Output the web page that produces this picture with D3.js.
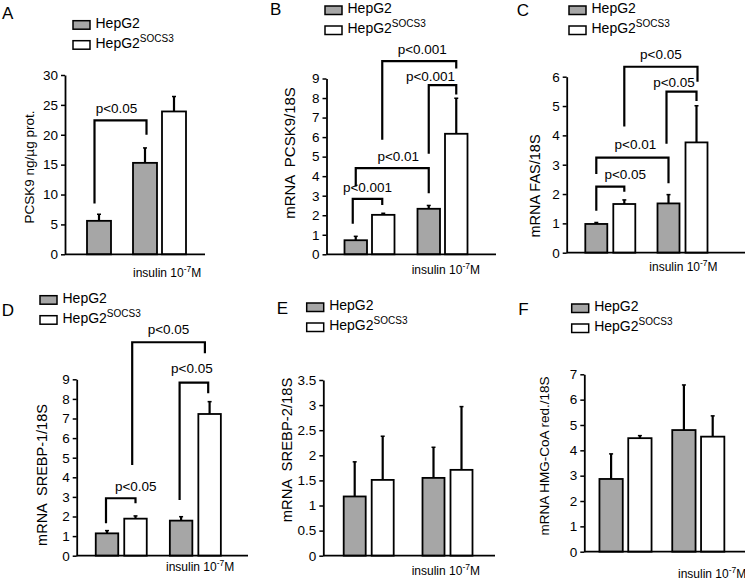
<!DOCTYPE html>
<html><head><meta charset="utf-8">
<script src="https://cdn.jsdelivr.net/npm/d3@7"></script>
<style>
body{margin:0;background:#fff;}
svg{display:block;font-family:"Liberation Sans",Arial,Helvetica,sans-serif;}
</style></head><body>
<svg id="chart" width="745" height="582"></svg>
<script>
// ---------- DATA ----------
const seriesNames = ["HepG2", "HepG2SOCS3"];
const groupNames = ["control", "insulin"];

// Panel A
const aGroup = ["control", "insulin", "insulin"];
const aSeries = [0, 0, 1];
const aValues = [5.6, 15.3, 23.9];
const aErrors = [1.1, 2.5, 2.5];
const aTicks = [0, 5, 10, 15, 20, 25, 30];
const aBrackets = [[0, 1, 8.5, 22.4, 20.0, "p<0.05"]];

// Panel B
const bGroup = ["control", "control", "insulin", "insulin"];
const bSeries = [0, 1, 0, 1];
const bValues = [0.72, 2.02, 2.33, 6.17];
const bErrors = [0.2, 0.08, 0.17, 1.82];
const bTicks = [0, 1, 2, 3, 4, 5, 6, 7, 8, 9];
const bBrackets = [
  [0, 1, 1.56, 2.84, 2.53, "p<0.001"],
  [0, 2, 3.47, 4.41, 3.13, "p<0.01"],
  [2, 3, 5.15, 8.66, 8.18, "p<0.001"],
  [1, 3, 5.87, 9.89, 9.51, "p<0.001"]
];

// Panel C
const cGroup = ["control", "control", "insulin", "insulin"];
const cSeries = [0, 1, 0, 1];
const cValues = [0.98, 1.66, 1.68, 3.76];
const cErrors = [0.05, 0.14, 0.3, 1.25];
const cTicks = [0, 1, 2, 3, 4, 5, 6];
const cBrackets = [
  [0, 1, 1.43, 2.25, 2.08, "p<0.05"],
  [0, 2, 2.68, 3.24, 2.37, "p<0.01"],
  [2, 3, 3.71, 5.49, 5.17, "p<0.05"],
  [1, 3, 4.30, 6.34, 5.83, "p<0.05"]
];

// Panel D
const dGroup = ["control", "control", "insulin", "insulin"];
const dSeries = [0, 1, 0, 1];
const dValues = [1.14, 1.89, 1.79, 7.23];
const dErrors = [0.14, 0.14, 0.2, 0.63];
const dTicks = [0, 1, 2, 3, 4, 5, 6, 7, 8, 9];
const dBrackets = [
  [0, 1, 1.65, 2.93, 2.67, "p<0.05"],
  [2, 3, 2.84, 8.83, 8.29, "p<0.05"],
  [1, 3, 4.63, 10.89, 10.33, "p<0.05"]
];

// Panel E
const eGroup = ["control", "control", "insulin", "insulin"];
const eSeries = [0, 1, 0, 1];
const eValues = [1.18, 1.51, 1.55, 1.71];
const eErrors = [0.69, 0.87, 0.61, 1.26];
const eTicks = [0, 0.5, 1, 1.5, 2, 2.5, 3, 3.5];
const eBrackets = [];

// Panel F
const fGroup = ["control", "control", "insulin", "insulin"];
const fSeries = [0, 1, 0, 1];
const fValues = [2.87, 4.48, 4.80, 4.54];
const fErrors = [0.99, 0.1, 1.78, 0.82];
const fTicks = [0, 1, 2, 3, 4, 5, 6, 7];
const fBrackets = [];

// ---------- LAYOUT ----------
const panels = [
  {letter: "A", group: aGroup, series: aSeries, values: aValues, errors: aErrors, ticks: aTicks, brackets: aBrackets,
   title: "PCSK9 ng/µg prot.",
   L: {ax: 65, yTop: 75, yBot: 254.3, xEnd: 205, gx: [68.75, 189.75], bw: 24, gap: 5,
       legX: 73, legY: 27.7, letterX: 2, letterY: 18.5, titleX: 34, titleY: 167, titleSize: 13.5,
       insX: 133, insY: 277, legOff: [[-4.5, 1.5]], labOff: [[-4, -7]]}},
  {letter: "B", group: bGroup, series: bSeries, values: bValues, errors: bErrors, ticks: bTicks, brackets: bBrackets,
   title: "mRNA  PCSK9/18S",
   L: {ax: 326.5, yTop: 78.5, yBot: 254.3, xEnd: 496, gx: [333, 479], bw: 22.5, gap: 5,
       legX: 325, legY: 13, letterX: 270, letterY: 15, titleX: 295, titleY: 153, titleSize: 15,
       insX: 411.7, insY: 274, legOff: [[-3, -1], [0, 0], [0, 0], [-1, 0]], labOff: [[0, -7], [6, -7.5], [-12, -4.5], [3, -7]]}},
  {letter: "C", group: cGroup, series: cSeries, values: cValues, errors: cErrors, ticks: cTicks, brackets: cBrackets,
   title: "mRNA FAS/18S",
   L: {ax: 566.7, yTop: 76.7, yBot: 252.7, xEnd: 745, gx: [574.2, 718.6], bw: 22, gap: 6,
       legX: 569, legY: 13, letterX: 516.7, letterY: 16, titleX: 539.5, titleY: 186, titleSize: 14.5,
       insX: 649.3, insY: 271, legOff: [[0, 0], [0, 0], [-2, 0], [0, 1]], labOff: [[15, -7.5], [3, -8.5], [-7.5, -4.5], [0, -8]]}},
  {letter: "D", group: dGroup, series: dSeries, values: dValues, errors: dErrors, ticks: dTicks, brackets: dBrackets,
   title: "mRNA  SREBP-1/18S",
   L: {ax: 76.7, yTop: 379.3, yBot: 555.7, xEnd: 248, gx: [84.2, 232.4], bw: 22.5, gap: 6,
       legX: 40, legY: 302.7, letterX: 1.7, letterY: 316, titleX: 47, titleY: 475, titleSize: 14.5,
       insX: 166, insY: 571, legOff: [[-1, 0], [-1.5, -1.4], [-3.3, -4.7]], labOff: [[15, -7.5], [-2, -9.5], [0, -8.5]]}},
  {letter: "E", group: eGroup, series: eSeries, values: eValues, errors: eErrors, ticks: eTicks, brackets: eBrackets,
   title: "mRNA  SREBP-2/18S",
   L: {ax: 323.3, yTop: 380, yBot: 555.7, xEnd: 495, gx: [329.3, 486.9], bw: 22, gap: 6,
       legX: 306.7, legY: 310, letterX: 276.7, letterY: 314, titleX: 292, titleY: 450, titleSize: 14.8,
       insX: 411.7, insY: 575, legOff: [], labOff: []}},
  {letter: "F", group: fGroup, series: fSeries, values: fValues, errors: fErrors, ticks: fTicks, brackets: fBrackets,
   title: "mRNA HMG-CoA red./18S",
   L: {ax: 584.3, yTop: 374.3, yBot: 551.7, xEnd: 745, gx: [589.1, 734.7], bw: 23.3, gap: 5.5,
       legX: 571.7, legY: 311, letterX: 518.3, letterY: 315, titleX: 549, titleY: 456, titleSize: 13.5,
       insX: 678, insY: 578, legOff: [], labOff: []}}
];

const fills = ["#a6a6a6", "#ffffff"];
const SW = 1.8;
const svg = d3.select("#chart");

panels.forEach(p => {
  const L = p.L;
  const g = svg.append("g");
  const ymax = d3.max(p.ticks);
  const y = d3.scaleLinear().domain([0, ymax]).range([L.yBot, L.yTop]);
  const xg = d3.scaleBand().domain(groupNames).range(L.gx).paddingInner(0).paddingOuter(0);

  // bar x positions
  const barX = p.values.map((v, i) => {
    const grp = p.group[i];
    const members = p.group.map((gg, j) => gg === grp ? j : -1).filter(j => j >= 0);
    const k = members.indexOf(i);
    const n = members.length;
    const total = n * L.bw + (n - 1) * L.gap;
    const cx = xg(grp) + xg.bandwidth() / 2;
    return cx - total / 2 + k * (L.bw + L.gap);
  });
  const barC = barX.map(x => x + L.bw / 2);

  // error bars
  p.values.forEach((v, i) => {
    const cx = barC[i];
    g.append("line").attr("x1", cx).attr("x2", cx)
      .attr("y1", y(v)).attr("y2", y(v + p.errors[i]))
      .attr("stroke", "#000").attr("stroke-width", 2.2);
    g.append("line").attr("x1", cx - 2).attr("x2", cx + 2)
      .attr("y1", y(v + p.errors[i])).attr("y2", y(v + p.errors[i]))
      .attr("stroke", "#000").attr("stroke-width", 1.5);
  });

  // bars
  g.selectAll("rect.bar").data(p.values).enter().append("rect")
    .attr("class", "bar")
    .attr("x", (d, i) => barX[i])
    .attr("y", d => y(d))
    .attr("width", L.bw)
    .attr("height", d => L.yBot - y(d))
    .attr("fill", (d, i) => fills[p.series[i]])
    .attr("stroke", "#000").attr("stroke-width", SW);

  // y axis
  const axis = d3.axisLeft(y).tickValues(p.ticks).tickSize(4).tickSizeOuter(0).tickPadding(3)
    .tickFormat(d => String(d));
  const ag = g.append("g").attr("transform", `translate(${L.ax},0)`).call(axis);
  ag.select(".domain").attr("stroke", "#000").attr("stroke-width", SW);
  ag.selectAll(".tick line").attr("stroke", "#000").attr("stroke-width", 1.5);
  ag.selectAll(".tick text").attr("fill", "#000").style("font-size", "13.5px")
    .style("font-family", '"Liberation Sans",Arial,sans-serif');

  // x axis baseline
  g.append("line").attr("x1", L.ax).attr("x2", L.xEnd).attr("y1", L.yBot).attr("y2", L.yBot)
    .attr("stroke", "#000").attr("stroke-width", SW);

  // brackets
  p.brackets.forEach((b, i) => {
    const off = L.legOff[i] || [0, 0];
    const xl = barC[b[0]] + off[0], xr = barC[b[1]] + off[1];
    const yt = y(b[3]);
    g.append("path")
      .attr("d", `M${xl},${y(b[2])}V${yt}H${xr}V${y(b[4])}`)
      .attr("fill", "none").attr("stroke", "#000").attr("stroke-width", 2.2);
    const lo = L.labOff[i] || [0, -7];
    g.append("text").attr("x", (xl + xr) / 2 + lo[0]).attr("y", yt + lo[1])
      .attr("text-anchor", "middle").style("font-size", "13.5px").text(b[5]);
  });

  // panel letter
  g.append("text").attr("x", L.letterX).attr("y", L.letterY).style("font-size", "17px").text(p.letter);

  // legend
  seriesNames.forEach((s, i) => {
    const by = L.legY + i * 20;
    g.append("rect").attr("x", L.legX).attr("y", by - 7).attr("width", 17).attr("height", 8.5)
      .attr("fill", fills[i]).attr("stroke", "#000").attr("stroke-width", 1.5);
    const t = g.append("text").attr("x", L.legX + 22.5).attr("y", by).style("font-size", "14px");
    if (s === "HepG2SOCS3") {
      t.append("tspan").text("HepG2");
      t.append("tspan").attr("dy", -6).style("font-size", "10px").text("SOCS3");
    } else {
      t.text(s);
    }
  });

  // axis title
  g.append("text")
    .attr("transform", `translate(${L.titleX},${L.titleY}) rotate(-90)`)
    .attr("text-anchor", "middle").style("font-size", L.titleSize + "px")
    .attr("xml:space", "preserve").style("white-space", "pre")
    .text(p.title);

  // insulin label
  const it = g.append("text").attr("x", L.insX).attr("y", L.insY).style("font-size", "12px");
  it.append("tspan").text("insulin 10");
  it.append("tspan").attr("dy", -5).style("font-size", "8.5px").text("-7");
  it.append("tspan").attr("dy", 5).text("M");
});
</script>
</body></html>
